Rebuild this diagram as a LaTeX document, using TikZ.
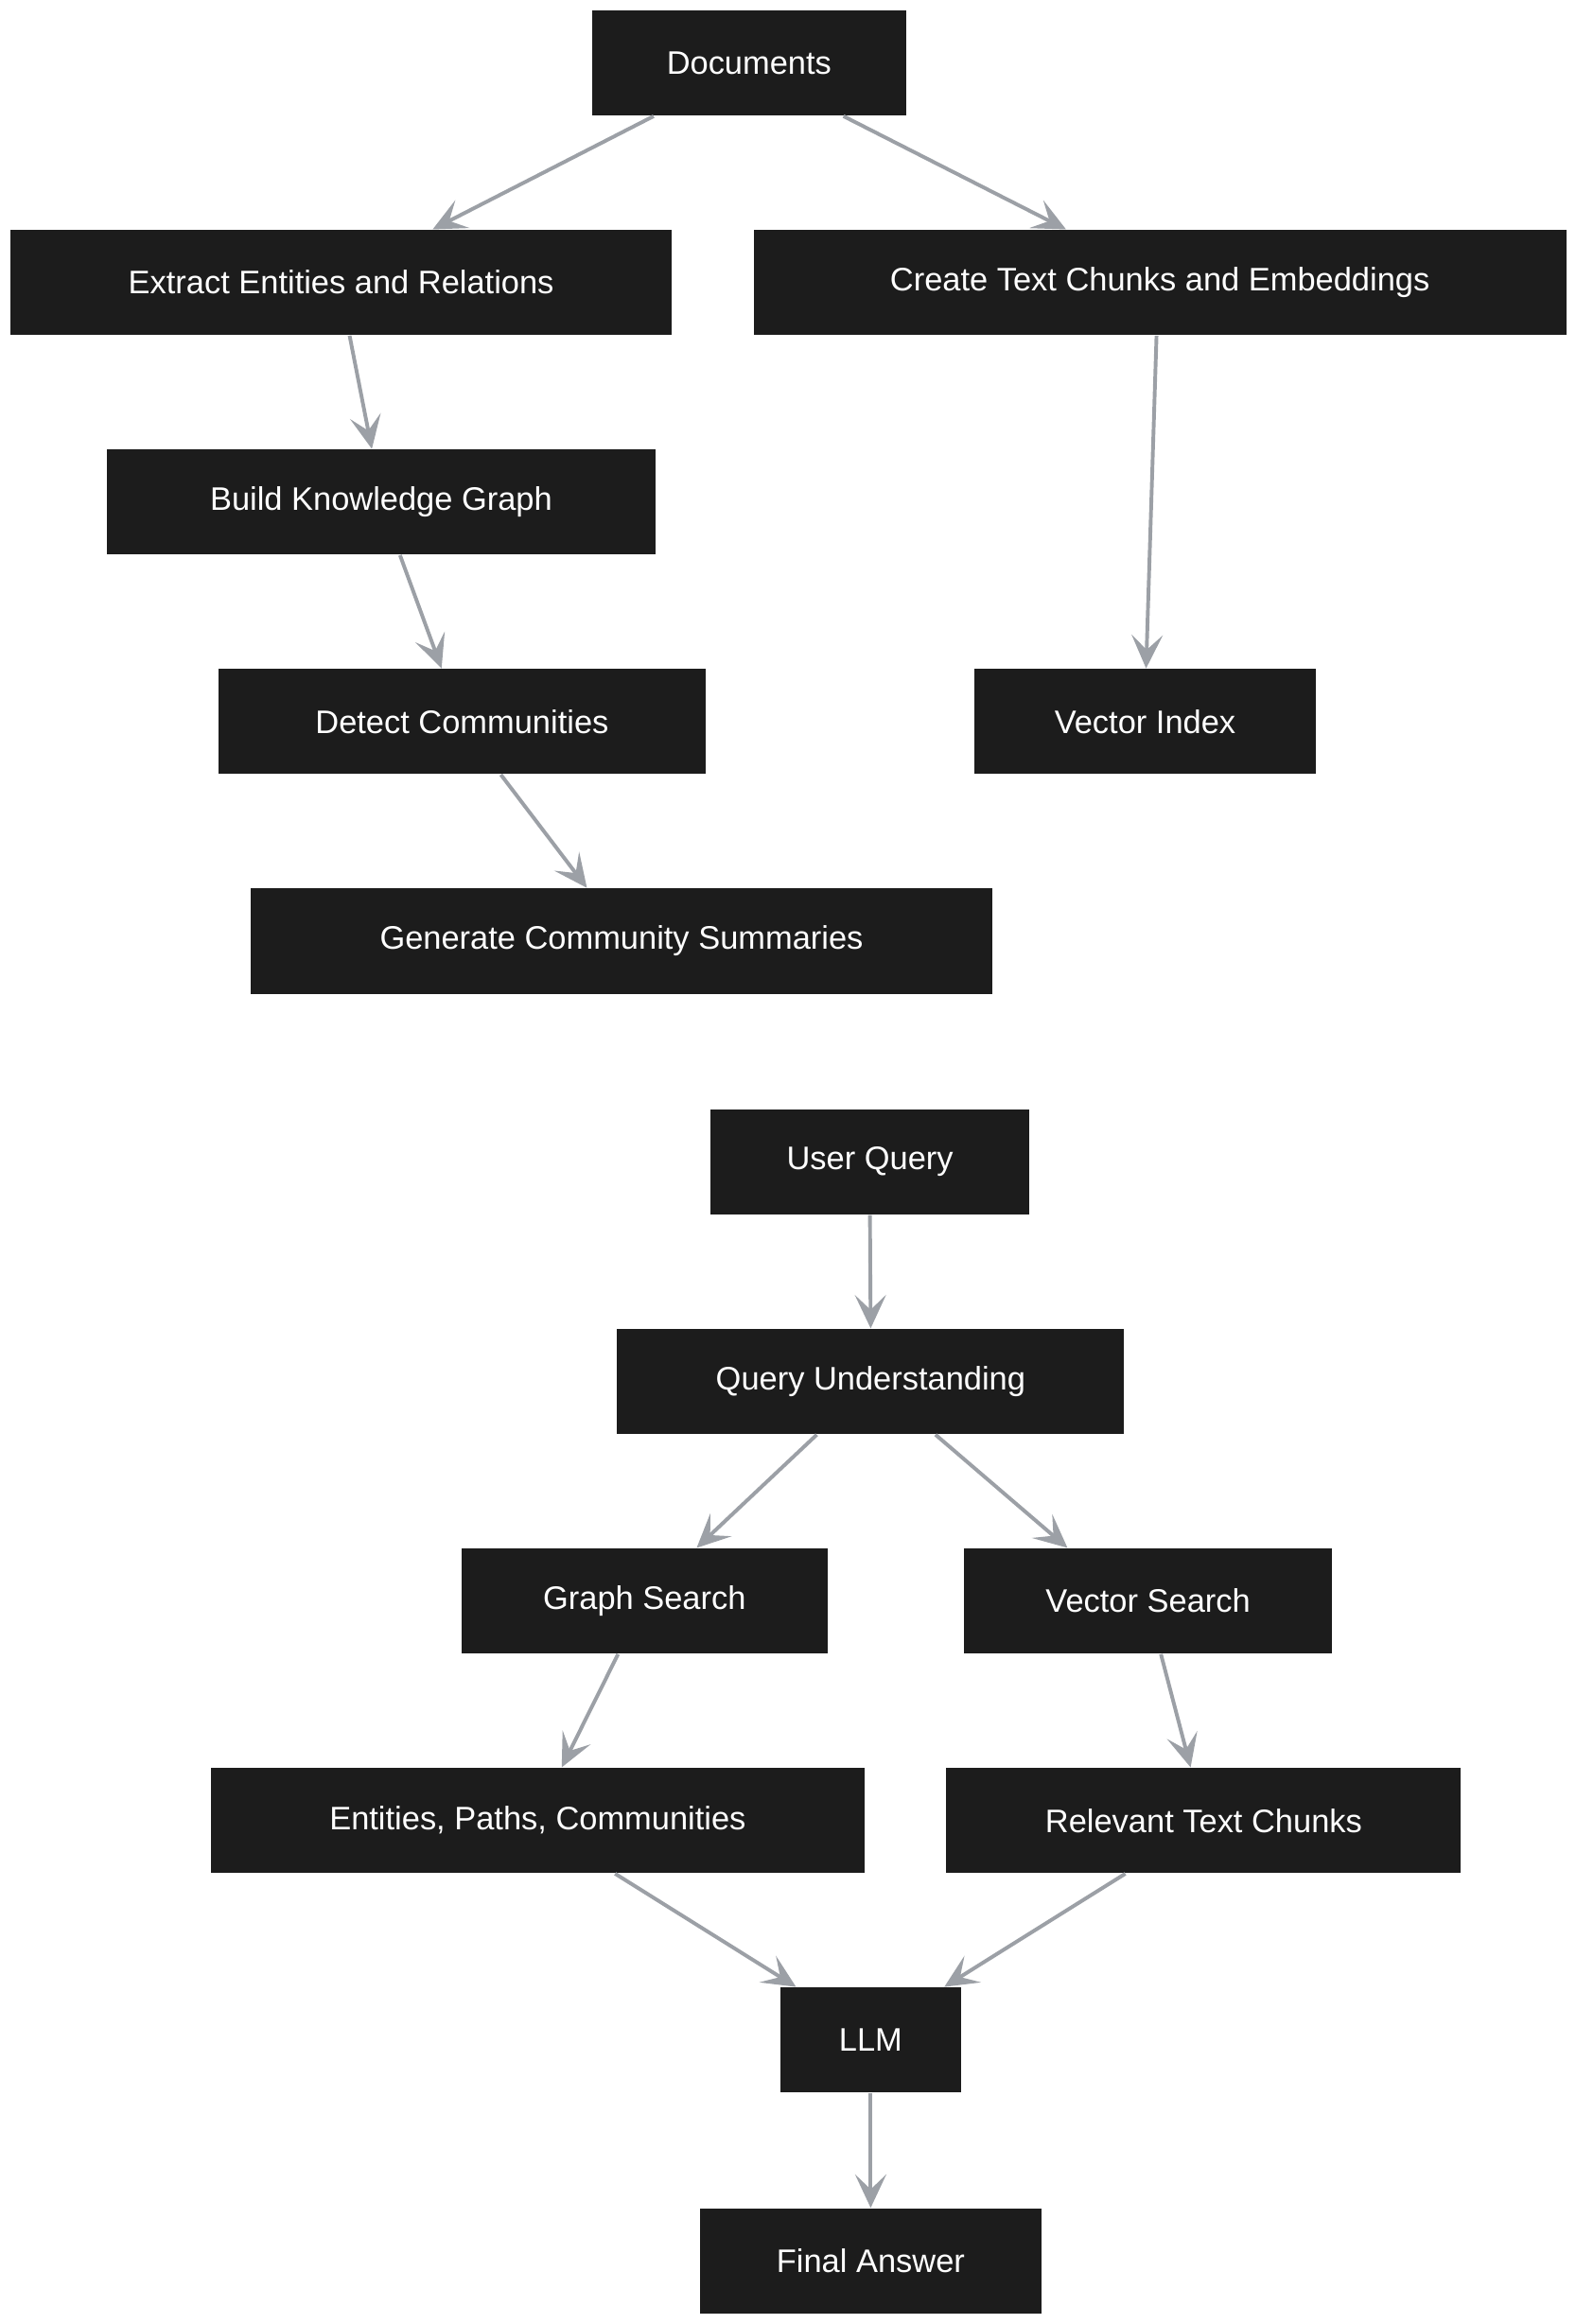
\documentclass[tikz,border=0pt]{standalone}
\usepackage{fontspec}
\setmainfont{Liberation Sans}
\usetikzlibrary{calc,arrows.meta}
\definecolor{boxc}{HTML}{1C1C1C}
\definecolor{edgec}{HTML}{9CA0A6}
\begin{document}
\begin{tikzpicture}[x=0.02cm,y=-0.02cm,
  box/.style={fill=boxc,text=white,minimum height=1.42cm,inner sep=0pt,font=\fontsize{12.5pt}{14pt}\selectfont},
  e/.style={draw=edgec,line width=0.05cm,-{Stealth[length=0.45cm,width=0.42cm,inset=0.2cm]}}]
\useasboundingbox[fill=white] (0,0) rectangle (1062,1567);
\node[box,minimum width=4.24cm] (docs) at (505,42.5) {Documents};
\node[box,minimum width=8.92cm] (ext) at (230,190.5) {Extract Entities and Relations};
\node[box,minimum width=10.96cm] (cre) at (782,190.5) {Create Text Chunks and Embeddings};
\node[box,minimum width=7.4cm] (bld) at (257,338.5) {Build Knowledge Graph};
\node[box,minimum width=6.58cm] (det) at (311.5,486.5) {Detect Communities};
\node[box,minimum width=4.6cm] (vi) at (772,486.5) {Vector Index};
\node[box,minimum width=10cm] (gen) at (419,634.5) {Generate Community Summaries};
\node[box,minimum width=4.3cm] (uq) at (586.5,783.5) {User Query};
\node[box,minimum width=6.84cm] (qu) at (587,931.5) {Query Understanding};
\node[box,minimum width=4.94cm] (gs) at (434.5,1079.5) {Graph Search};
\node[box,minimum width=4.96cm] (vs) at (774,1079.5) {Vector Search};
\node[box,minimum width=8.82cm] (ent) at (362.5,1227.5) {Entities, Paths, Communities};
\node[box,minimum width=6.94cm] (rel) at (811.5,1227.5) {Relevant Text Chunks};
\node[box,minimum width=2.44cm] (llm) at (587,1375.5) {LLM};
\node[box,minimum width=4.6cm] (fin) at (587,1524.5) {Final Answer};
\draw[e] ($(docs.south west)+(42,0)$) -- ($(ext.north west)+(285,0)$);
\draw[e] ($(docs.south west)+(170,0)$) -- ($(cre.north west)+(211,0)$);
\draw[e] ($(ext.south west)+(229,0)$) -- ($(bld.north west)+(179,0)$);
\draw[e] ($(cre.south west)+(272,0)$) -- ($(vi.north west)+(116,0)$);
\draw[e] ($(bld.south west)+(198,0)$) -- ($(det.north west)+(151,0)$);
\draw[e] ($(det.south west)+(191,0)$) -- ($(gen.north west)+(227,0)$);
\draw[e] (uq.south) -- (qu.north);
\draw[e] ($(qu.south west)+(135,0)$) -- ($(gs.north west)+(159,0)$);
\draw[e] ($(qu.south west)+(215,0)$) -- ($(vs.north west)+(70,0)$);
\draw[e] ($(gs.south west)+(106,0)$) -- ($(ent.north west)+(237,0)$);
\draw[e] ($(vs.south west)+(133,0)$) -- ($(rel.north west)+(165,0)$);
\draw[e] ($(ent.south west)+(273,0)$) -- ($(llm.north west)+(11,0)$);
\draw[e] ($(rel.south west)+(121,0)$) -- ($(llm.north west)+(111,0)$);
\draw[e] (llm.south) -- (fin.north);
\end{tikzpicture}
\end{document}
